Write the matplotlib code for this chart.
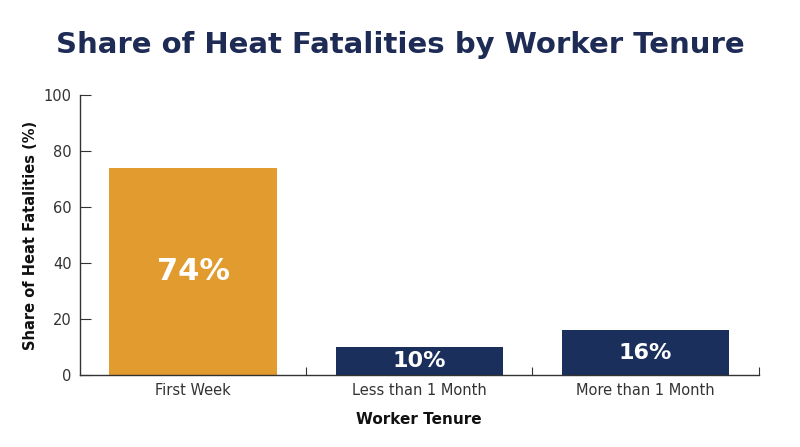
import matplotlib
matplotlib.use("Agg")
import matplotlib.pyplot as plt
import numpy as np

categories = ["First Week", "Less than 1 Month", "More than 1 Month"]
values = [74, 10, 16]
labels = ["74%", "10%", "16%"]
colors = ["#E29B2F", "#1B2F5C", "#1B2F5C"]
label_sizes = [22, 16, 16]
yticks = [0, 20, 40, 60, 80, 100]

plt.rcParams['font.family'] = ['DejaVu Sans']

fig = plt.figure(figsize=(8, 4.47), dpi=100)
ax = fig.add_axes([80/800, (447-375)/447, (758.5-80)/800, (375-95)/447])

x = np.arange(len(categories))
bars = ax.bar(x, values, width=0.74, color=colors, zorder=2)
for xi, v, lab, s in zip(x, values, labels, label_sizes):
    ax.text(xi, v/2, lab, ha='center', va='center', color='white',
            fontsize=s, fontweight='bold')

ax.set_xlim(-0.5, 2.5)
ax.set_ylim(0, 100)
ax.set_yticks(yticks)
ax.set_xticks([0.5, 1.5, 2.5])
ax.set_xticklabels([])
ax.set_xticks(x, minor=True)
ax.set_xticklabels(categories, minor=True)
ax.tick_params(axis='x', which='minor', length=0, pad=6, labelsize=10.5, labelcolor='#333333')
ax.tick_params(axis='x', which='major', direction='in', length=6, color='#333333')
ax.tick_params(axis='y', direction='in', length=8, labelsize=10.5, labelcolor='#333333', color='#333333', pad=6)

for sp in ['top', 'right']:
    ax.spines[sp].set_visible(False)
for sp in ['left', 'bottom']:
    ax.spines[sp].set_color('#333333')
    ax.spines[sp].set_linewidth(1)

ax.set_ylabel("Share of Heat Fatalities (%)", fontsize=10.5, fontweight='bold', color='#111111', labelpad=4)
ax.set_xlabel("Worker Tenure", fontsize=11, fontweight='bold', color='#111111', labelpad=10)

fig.text(0.5, 1 - 45/447, "Share of Heat Fatalities by Worker Tenure", ha='center', va='center',
         fontsize=21, color='#1D2B55', fontweight='bold')

fig.savefig("out.png", dpi=100, facecolor='white')
